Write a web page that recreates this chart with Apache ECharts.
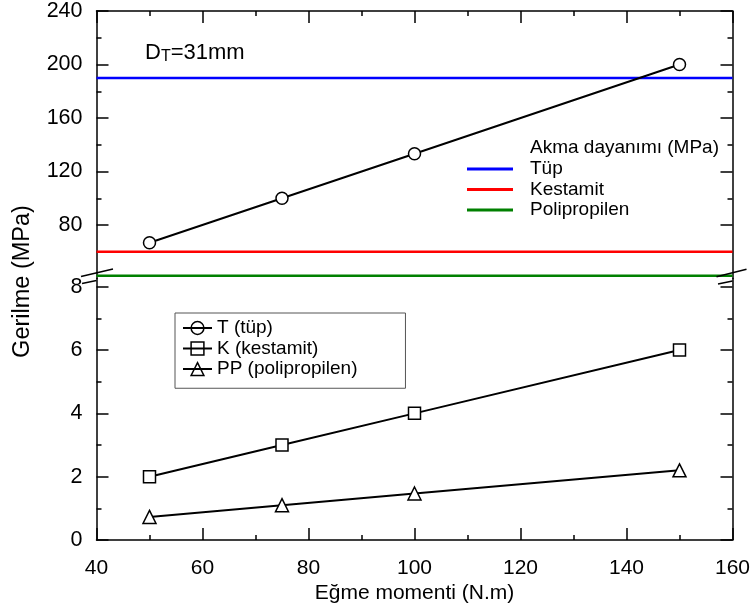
<!DOCTYPE html>
<html><head><meta charset="utf-8">
<script src="https://cdn.jsdelivr.net/npm/echarts@6/dist/echarts.min.js"></script>
<style>html,body{margin:0;padding:0;background:#fff}#c{width:755px;height:611px}</style>
</head><body><div id="c"></div>
<script>
// ---- data ----
const moment = [50, 75, 100, 150];
const tubeStress = [66.7, 100, 133.3, 200];
const kestamitStress = [2, 3, 4, 6];
const ppStress = [0.73, 1.1, 1.47, 2.2];
const seriesNames = ['T (tüp)', 'K (kestamit)', 'PP (polipropilen)'];
const yieldTitle = 'Akma dayanımı (MPa)';
const yieldNames = ['Tüp', 'Kestamit', 'Polipropilen'];
const yieldValues = [190, 60, 42];
const yieldColors = ['#0000ff', '#ff0000', '#008000'];
const xRange = [40, 160];
const upperRange = [40, 240];
const lowerRange = [0, 8.26];
const upperTicks = [80, 120, 160, 200, 240];
const lowerTicks = [0, 2, 4, 6, 8];
const lowerMinor = [1, 3, 5, 7];
const xName = 'Eğme momenti (N.m)';
const yName = 'Gerilme (MPa)';
const note = '{a|D}{b|T}{a|=31mm}';

// ---- layout ----
const L = 96.5, W = 636, T0 = 11, SPLIT = 278.5, B = 540;
const FONT = "'Liberation Sans', Arial, sans-serif";
const axisLineStyle = { color: '#000', width: 1.5 };

function xAxisDef(grid, pos, labels) {
  return {
    type: 'value', gridIndex: grid, position: pos, min: xRange[0], max: xRange[1], interval: 20,
    axisLine: { show: true, onZero: false, lineStyle: axisLineStyle },
    axisTick: { show: true, inside: true, length: 12, lineStyle: axisLineStyle },
    minorTick: { show: true, splitNumber: 2, length: 5, lineStyle: axisLineStyle },
    axisLabel: { show: labels, color: '#000', fontSize: 21, margin: 18, fontFamily: FONT },
    splitLine: { show: false },
    name: labels ? xName : '', nameLocation: 'middle', nameGap: 43,
    nameTextStyle: { color: '#000', fontSize: 21, fontFamily: FONT }
  };
}
function yAxisDef(grid, pos, range, interval, ticks, labels, minor) {
  return {
    type: 'value', gridIndex: grid, position: pos, min: range[0], max: range[1], interval: interval,
    axisLine: { show: true, onZero: false, lineStyle: axisLineStyle },
    axisTick: { show: true, inside: true, length: 12, customValues: ticks, lineStyle: axisLineStyle },
    minorTick: { show: minor, splitNumber: 2, length: 5, lineStyle: axisLineStyle },
    axisLabel: { show: labels, customValues: ticks, color: '#000', fontSize: 21.5, margin: 14, fontFamily: FONT },
    splitLine: { show: false }
  };
}
function yMinorDef(grid, pos, range, ticks) {
  return {
    type: 'value', gridIndex: grid, position: pos, min: range[0], max: range[1], interval: 1,
    axisLine: { show: false, onZero: false },
    axisTick: { show: true, inside: true, length: 5, customValues: ticks, lineStyle: axisLineStyle },
    axisLabel: { show: false }, splitLine: { show: false }
  };
}

const markerStyle = { color: '#fff', borderColor: '#000', borderWidth: 1.5 };
const pts = vals => moment.map((m, i) => [m, vals[i]]);

const series = [];
yieldNames.forEach((n, i) => {
  series.push({
    name: n, type: 'line', xAxisIndex: 0, yAxisIndex: 0, symbol: 'none', z: 1,
    data: [[xRange[0], yieldValues[i]], [xRange[1], yieldValues[i]]],
    lineStyle: { color: yieldColors[i], width: 2.5 }, itemStyle: { color: yieldColors[i] },
    silent: true
  });
});
series.push({ name: seriesNames[0], type: 'line', xAxisIndex: 0, yAxisIndex: 0, data: pts(tubeStress),
  symbol: 'circle', symbolSize: 12, itemStyle: markerStyle, lineStyle: { color: '#000', width: 2 }, z: 3 });
series.push({ name: seriesNames[1], type: 'line', xAxisIndex: 1, yAxisIndex: 2, data: pts(kestamitStress),
  symbol: 'rect', symbolSize: 12, itemStyle: markerStyle, lineStyle: { color: '#000', width: 2 }, z: 3 });
series.push({ name: seriesNames[2], type: 'line', xAxisIndex: 1, yAxisIndex: 2, data: pts(ppStress),
  symbol: 'triangle', symbolSize: 13, itemStyle: markerStyle, lineStyle: { color: '#000', width: 2 }, z: 3 });

const brk = (x1, y1, x2, y2) => ({ type: 'line', shape: { x1, y1, x2, y2 }, style: { stroke: '#000', lineWidth: 1.5 }, z: 100 });

const option = {
  animation: false,
  backgroundColor: '#fff',
  textStyle: { fontFamily: FONT },
  title: [
    { text: yieldTitle, left: 530, top: 138, padding: 0,
      textStyle: { fontSize: 19, lineHeight: 20.5, fontWeight: 'normal', color: '#000', fontFamily: FONT } },
    { text: note, left: 145, top: 41, padding: 0,
      textStyle: { fontWeight: 'normal', color: '#000', fontFamily: FONT,
        rich: { a: { fontSize: 22, lineHeight: 23, color: '#000', fontFamily: FONT },
                b: { fontSize: 16, lineHeight: 16, padding: [9, 0, 0, 0], color: '#000', fontFamily: FONT } } } }
  ],
  grid: [
    { left: L, top: T0, width: W, height: SPLIT - T0 },
    { left: L, top: SPLIT, width: W, height: B - SPLIT }
  ],
  xAxis: [xAxisDef(0, 'top', false), xAxisDef(1, 'bottom', true)],
  yAxis: [
    yAxisDef(0, 'left', upperRange, 40, upperTicks, true, true),
    yAxisDef(0, 'right', upperRange, 40, upperTicks, false, true),
    yAxisDef(1, 'left', lowerRange, 2, lowerTicks, true, false),
    yAxisDef(1, 'right', lowerRange, 2, lowerTicks, false, false),
    yMinorDef(1, 'left', lowerRange, lowerMinor),
    yMinorDef(1, 'right', lowerRange, lowerMinor)
  ],
  legend: [
    { data: yieldNames.map(n => ({ name: n, icon: 'rect' })), orient: 'vertical', left: 467, top: 158.75,
      itemWidth: 46, itemHeight: 3, itemGap: 0, padding: 0, selectedMode: false,
      textStyle: { fontSize: 19, lineHeight: 20.5, color: '#000', fontFamily: FONT, padding: [0, 0, 0, 12] } },
    { data: seriesNames, orient: 'vertical', left: 175, top: 313,
      itemWidth: 29, itemHeight: 16, itemGap: 0, padding: [4.75, 48, 9, 7], selectedMode: false,
      borderColor: '#555', borderWidth: 1, backgroundColor: '#fff',
      itemStyle: { color: 'rgba(0,0,0,0)', borderColor: '#000', borderWidth: 1.5 },
      textStyle: { fontSize: 19, lineHeight: 20.5, color: '#000', fontFamily: FONT } }
  ],
  graphic: [
    { type: 'text', x: 23, y: 281.5, rotation: Math.PI / 2,
      style: { text: yName, fontSize: 23.5, fontFamily: FONT, fill: '#000', align: 'center', verticalAlign: 'middle' } },
    brk(81, 276.5, 113, 269), brk(82, 283.5, 96.5, 280.5),
    brk(716.5, 276.7, 746.5, 269.3), brk(718, 284, 732.5, 281)
  ],
  series: series
};
const chart = echarts.init(document.getElementById('c'), null, { renderer: 'canvas' });
chart.setOption(option);
</script></body></html>
